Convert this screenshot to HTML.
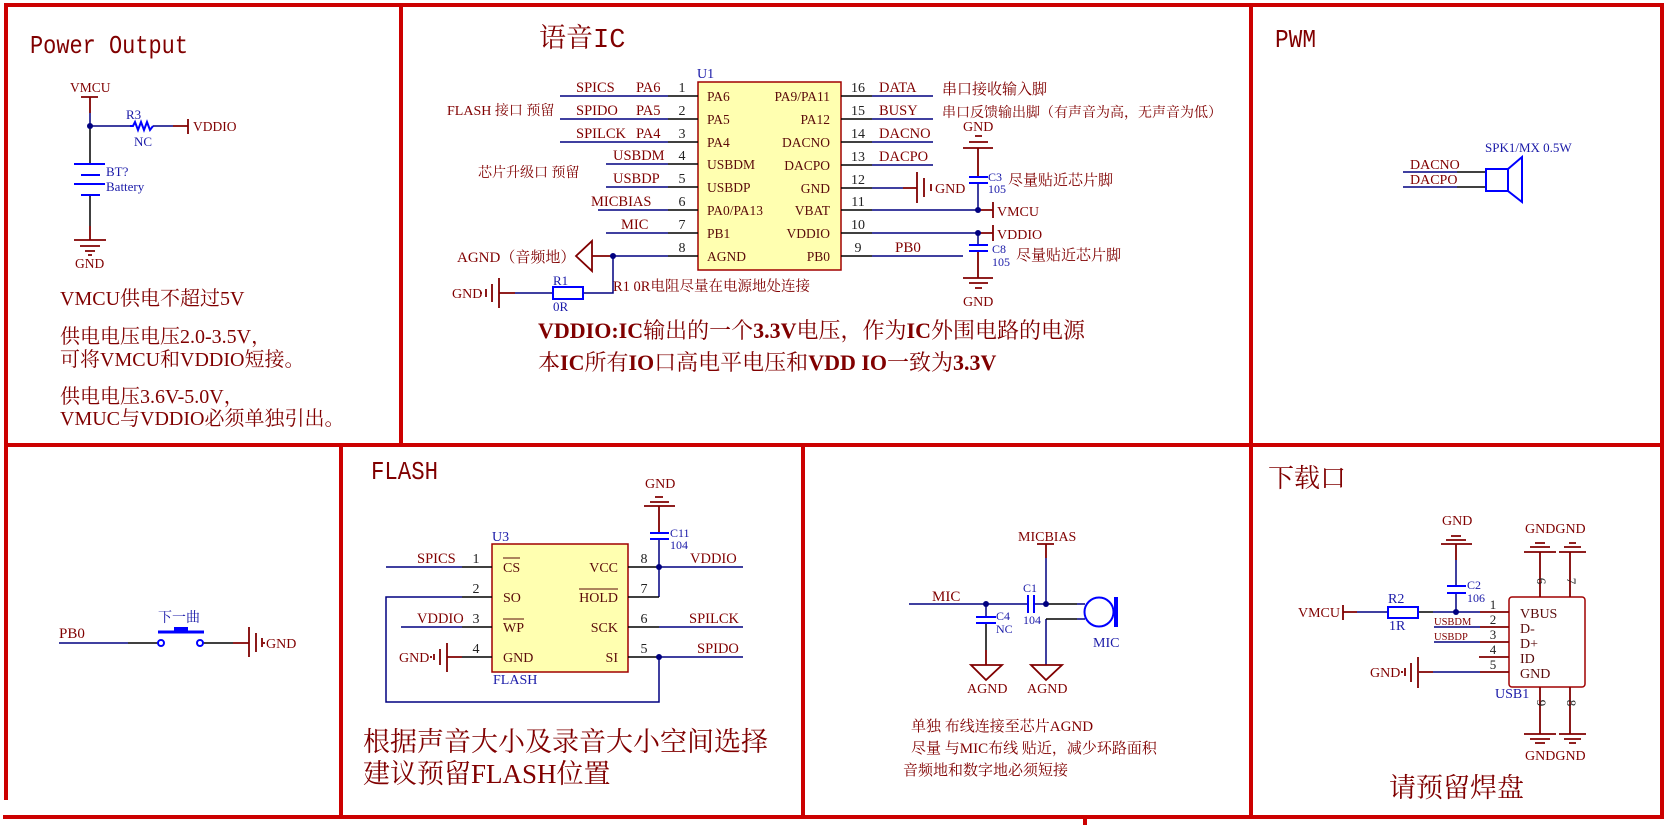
<!DOCTYPE html>
<html><head><meta charset="utf-8"><style>
html,body{margin:0;padding:0;background:#fff;}
svg{display:block;}
text{font-family:"Liberation Serif","Noto Serif CJK SC",serif;}
.r{fill:#800000}
.b{fill:#1a1aa8}
.k{fill:#222}
.mono{font-family:"Liberation Mono","Noto Serif CJK SC",monospace;}
</style></head><body>
<svg width="1669" height="825" viewBox="0 0 1669 825" xmlns="http://www.w3.org/2000/svg">
<rect x="0" y="0" width="1669" height="825" fill="#fff"/>

<!-- GRID -->
<g stroke="#cc0000" stroke-width="4" fill="none">
<path d="M4 5 H1664 M6 5 V800 M1662 5 V818 M3 817 H1664 M6 445 H1662 M401 5 V445 M1251 5 V817 M341 445 V817 M803 445 V817 M1085 817 V825"/>
</g>

<!-- IC boxes -->
<rect x="698" y="82" width="143" height="188" fill="#ffffb0" stroke="#a00000" stroke-width="1.5"/>
<rect x="492" y="544" width="136" height="128" fill="#ffffb0" stroke="#a00000" stroke-width="1.5"/>
<rect x="1509" y="597" width="76" height="90" rx="3" fill="#fff" stroke="#a00000" stroke-width="1.5"/>

<!-- NAVY WIRES -->
<g stroke="#000080" stroke-width="1.5" fill="none">
<path d="M90 113 V126 H130 M153 126 H173"/>
<path d="M560 96 H668 M560 119 H668 M560 142 H668 M606 164 H668 M606 187 H668 M598 210 H668 M606 233 H668 M613 256 H668 M613 256 V293 H583 M553 293 H515"/>
<path d="M872 96 H933 M872 119 H933 M872 142 H933 M872 165 H933 M872 188 H903 M872 210 H978 M872 233 H978 M872 256 H963 M978 183 V210 M978 233 V245"/>
<path d="M1403 172 H1457 M1403 187 H1457"/>
<path d="M59 643 H128"/>
<path d="M386 567 H462 M462 597 H386 V702 H659 V657 M401 627 H462 M659 567 H743 M659 597 V567 M659 539 V567 M659 627 H743 M659 657 H743"/>
<path d="M909 604 H1028 M1034 604 H1046 M1046 558 V604 M1077 604 H1085 M1077 619 H1085 M1046 619 V665 M986 604 V617"/>
<path d="M1357 612 H1388 M1433 612 H1480 M1456 560 V586 M1456 593 V612 M1434 627 H1480 M1434 642 H1480 M1433 672 H1480"/>
</g>

<!-- BLACK WIRES -->
<g stroke="#000" stroke-width="1.5" fill="none">
<path d="M90 126 V164 M90 195 V226"/>
<path d="M668 96 H698 M668 119 H698 M668 142 H698 M668 164 H698 M668 187 H698 M668 210 H698 M668 233 H698 M668 256 H698"/>
<path d="M841 96 H872 M841 119 H872 M841 142 H872 M841 165 H872 M841 188 H872 M841 210 H872 M841 233 H872 M841 256 H872"/>
<path d="M1457 172 H1486 M1457 187 H1486"/>
<path d="M128 643 H158 M203 643 H233"/>
<path d="M462 567 H492 M462 597 H492 M462 627 H492 M462 657 H492 M628 567 H659 M628 597 H659 M628 627 H659 M628 657 H659"/>
<path d="M1046 604 H1077 M1046 619 H1077 M986 623 V650"/>
<path d="M1418 612 H1433"/>
</g>

<!-- DARK RED (power ports / ground) -->
<g stroke="#800000" stroke-width="1.8" fill="none">
<path d="M81 97 H98 M90 97 V113 M173 126 H188 M188 119 V134 M90 226 V240"/>
<path d="M74 240 H106 M80 246 H100 M85 251 H95 M88 255 H92"/>
<path d="M592 256 H613"/>
<polygon points="576,256 592,241 592,271"/>
<path d="M515 293 H499 M499 278 V308 M492 284 V302 M486 289 V297 M481 292 V294"/>
<path d="M903 188 H917 M917 172 V203 M924 178 V197 M931 184 V191"/>
<path d="M978 210 H993 M993 202 V218 M978 233 H993 M993 225 V241"/>
<path d="M975 136 H982 M969 142 H988 M963 148 H993 M978 148 V177"/>
<path d="M978 251 V278 M963 278 H993 M969 283 H988 M975 288 H982"/>
<path d="M233 643 H249 M249 627 V657 M256 633 V652 M262 638 V647 M264 642 V644"/>
<path d="M447 657 H462 M447 643 V672 M440 649 V665 M434 654 V660 M431 656 V658"/>
<path d="M659 533 V506 M644 506 H675 M650 502 H669 M655 497 H663"/>
<path d="M1037 544 H1054 M1046 544 V558 M986 650 V665"/>
<polygon points="971,665 1002,665 986,680"/>
<polygon points="1031,665 1062,665 1046,680"/>
<path d="M1343 605 V620 M1343 612 H1357 M1480 612 H1509 M1480 627 H1509 M1480 642 H1509 M1479 657 H1509 M1480 672 H1509 M1433 672 H1419"/>
<path d="M1418 657 V688 M1411 663 V682 M1405 668 V676 M1402 671 V673"/>
<path d="M1456 544 V560 M1441 544 H1472 M1446 540 H1466 M1451 536 H1461"/>
<path d="M1540 597 V552 M1570 597 V552 M1524 552 H1556 M1559 552 H1586 M1530 547 H1550 M1564 547 H1581 M1535 543 H1545 M1569 543 H1576"/>
<path d="M1540 687 V734 M1570 687 V734 M1524 734 H1556 M1559 734 H1586 M1530 739 H1550 M1564 739 H1581 M1535 743 H1545 M1569 743 H1576"/>
</g>

<!-- BLUE COMPONENT SYMBOLS -->
<g stroke="#0000ff" stroke-width="2" fill="none">
<polyline points="130,126 133,126 135,122 138,130 141,122 144,130 147,122 150,130 153,126"/>
<path d="M74 164 H105 M81 175 H100 M74 184 H105 M81 195 H100"/>
<rect x="553" y="287" width="30" height="12"/>
<path d="M969 177 H988 M969 183 H988 M969 245 H988 M969 251 H988"/>
<rect x="1486" y="169" width="22" height="22"/>
<polygon points="1508,169 1522,157 1522,202 1508,191"/>
<circle cx="161" cy="643" r="3" fill="#fff"/>
<circle cx="200" cy="643" r="3" fill="#fff"/>
<path d="M158 632 H204" stroke-width="3"/>
<path d="M650 533 H669 M650 539 H669"/>
<path d="M1028 595 V613 M1034 595 V613 M976 617 H996 M976 623 H996"/>
<circle cx="1099" cy="612" r="14.5"/>
<path d="M1116 597 V627" stroke-width="4"/>
<rect x="1388" y="607" width="30" height="11"/>
<path d="M1447 586 H1466 M1447 593 H1466"/>
</g>
<rect x="174" y="627" width="14" height="5" fill="#0000ff"/>

<!-- junction dots -->
<g fill="#000080">
<circle cx="90" cy="126" r="3"/>
<circle cx="613" cy="256" r="3"/>
<circle cx="978" cy="210" r="3"/>
<circle cx="978" cy="233" r="3"/>
<circle cx="659" cy="567" r="3"/>
<circle cx="659" cy="657" r="3"/>
<circle cx="986" cy="604" r="3"/>
<circle cx="1046" cy="604" r="3"/>
<circle cx="1456" cy="612" r="3"/>
</g>

<!-- ============ TEXT ============ -->
<!-- Power panel -->
<text x="30" y="53" class="mono r" font-size="26" textLength="158" lengthAdjust="spacingAndGlyphs">Power Output</text>
<text x="70" y="92" class="r" font-size="13.5">VMCU</text>
<text x="126" y="119" class="b" font-size="13">R3</text>
<text x="134" y="146" class="b" font-size="13">NC</text>
<text x="193" y="131" class="r" font-size="13.5">VDDIO</text>
<text x="106" y="176" class="b" font-size="13">BT?</text>
<text x="106" y="191" class="b" font-size="13">Battery</text>
<text x="75" y="268" class="r" font-size="13.5">GND</text>
<g class="r" font-size="20">
<text x="60" y="305">VMCU供电不超过5V</text>
<text x="60" y="343">供电电压电压2.0-3.5V，</text>
<text x="60" y="366">可将VMCU和VDDIO短接。</text>
<text x="60" y="403">供电电压3.6V-5.0V，</text>
<text x="60" y="425">VMUC与VDDIO必须单独引出。</text>
</g>

<!-- IC panel -->
<text x="539" y="47" class="r" font-size="27"><tspan style="font-family:'Noto Serif CJK SC',serif">语音</tspan><tspan class="mono">IC</tspan></text>
<text x="697" y="78" class="b" font-size="14">U1</text>
<g class="r" font-size="14.5">
<text x="576" y="92">SPICS</text><text x="636" y="92">PA6</text>
<text x="576" y="115">SPIDO</text><text x="636" y="115">PA5</text>
<text x="576" y="138">SPILCK</text><text x="636" y="138">PA4</text>
<text x="613" y="160">USBDM</text>
<text x="613" y="183">USBDP</text>
<text x="591" y="206">MICBIAS</text>
<text x="621" y="229">MIC</text>
<text x="879" y="92">DATA</text>
<text x="879" y="115">BUSY</text>
<text x="879" y="138">DACNO</text>
<text x="879" y="161">DACPO</text>
<text x="895" y="252" font-size="15">PB0</text>
</g>
<g class="k" font-size="14" text-anchor="middle">
<text x="682" y="92">1</text><text x="682" y="115">2</text><text x="682" y="138">3</text><text x="682" y="160">4</text>
<text x="682" y="183">5</text><text x="682" y="206">6</text><text x="682" y="229">7</text><text x="682" y="252">8</text>
<text x="858" y="92">16</text><text x="858" y="115">15</text><text x="858" y="138">14</text><text x="858" y="161">13</text>
<text x="858" y="184">12</text><text x="858" y="206">11</text><text x="858" y="229">10</text><text x="858" y="252">9</text>
</g>
<g fill="#5a0a0a" font-size="13.5">
<text x="707" y="101">PA6</text><text x="707" y="124">PA5</text><text x="707" y="147">PA4</text>
<text x="707" y="169">USBDM</text><text x="707" y="192">USBDP</text><text x="707" y="215">PA0/PA13</text>
<text x="707" y="238">PB1</text><text x="707" y="261">AGND</text>
</g>
<g fill="#5a0a0a" font-size="13.5" text-anchor="end">
<text x="830" y="101">PA9/PA11</text><text x="830" y="124">PA12</text><text x="830" y="147">DACNO</text>
<text x="830" y="170">DACPO</text><text x="830" y="193">GND</text><text x="830" y="215">VBAT</text>
<text x="830" y="238">VDDIO</text><text x="830" y="261">PB0</text>
</g>
<g class="r" font-size="14">
<text x="447" y="115">FLASH 接口 预留</text>
<text x="478" y="177">芯片升级口 预留</text>
<text x="457" y="262" font-size="15">AGND（音频地）</text>
<text x="452" y="298">GND</text>
<text x="935" y="193">GND</text>
<text x="963" y="131">GND</text>
<text x="963" y="306">GND</text>
<text x="997" y="216">VMCU</text>
<text x="997" y="239">VDDIO</text>
<text x="613" y="291" font-size="14.5">R1 0R电阻尽量在电源地处连接</text>
<text x="942" y="94" font-size="15">串口接收输入脚</text>
<text x="942" y="117">串口反馈输出脚（有声音为高，无声音为低）</text>
<text x="1008" y="185" font-size="15">尽量贴近芯片脚</text>
<text x="1016" y="260" font-size="15">尽量贴近芯片脚</text>
</g>
<g class="b" font-size="12">
<text x="553" y="285" font-size="13">R1</text>
<text x="553" y="311" font-size="13">0R</text>
<text x="988" y="181">C3</text>
<text x="988" y="193">105</text>
<text x="992" y="253">C8</text>
<text x="992" y="266">105</text>
</g>
<text x="538" y="338" class="r" font-size="22"><tspan font-weight="bold">VDDIO:IC</tspan>输出的一个<tspan font-weight="bold">3.3V</tspan>电压，作为<tspan font-weight="bold">IC</tspan>外围电路的电源</text>
<text x="538" y="370" class="r" font-size="22">本<tspan font-weight="bold">IC</tspan>所有<tspan font-weight="bold">IO</tspan>口高电平电压和<tspan font-weight="bold">VDD IO</tspan>一致为<tspan font-weight="bold">3.3V</tspan></text>

<!-- PWM panel -->
<text x="1275" y="47" class="mono r" font-size="26" textLength="41" lengthAdjust="spacingAndGlyphs">PWM</text>
<text x="1485" y="152" class="b" font-size="13">SPK1/MX 0.5W</text>
<text x="1410" y="169" class="r" font-size="14">DACNO</text>
<text x="1410" y="184" class="r" font-size="14">DACPO</text>

<!-- Button panel -->
<text x="59" y="638" class="r" font-size="15">PB0</text>
<text x="158" y="622" class="b" font-size="14">下一曲</text>
<text x="266" y="648" class="r" font-size="14">GND</text>

<!-- FLASH panel -->
<text x="371" y="479" class="mono r" font-size="26" textLength="67" lengthAdjust="spacingAndGlyphs">FLASH</text>
<text x="492" y="541" class="b" font-size="14">U3</text>
<g class="r" font-size="14.5">
<text x="417" y="563">SPICS</text>
<text x="417" y="623">VDDIO</text>
<text x="399" y="662" font-size="14">GND</text>
<text x="690" y="563">VDDIO</text>
<text x="689" y="623">SPILCK</text>
<text x="697" y="653">SPIDO</text>
<text x="645" y="488" font-size="14">GND</text>
</g>
<g class="k" font-size="14" text-anchor="middle">
<text x="476" y="563">1</text><text x="476" y="593">2</text><text x="476" y="623">3</text><text x="476" y="653">4</text>
<text x="644" y="563">8</text><text x="644" y="593">7</text><text x="644" y="623">6</text><text x="644" y="653">5</text>
</g>
<g fill="#5a0a0a" font-size="14">
<text x="503" y="572">CS</text><text x="503" y="602">SO</text><text x="503" y="632">WP</text><text x="503" y="662">GND</text>
<text x="618" y="572" text-anchor="end">VCC</text><text x="618" y="602" text-anchor="end">HOLD</text>
<text x="618" y="632" text-anchor="end">SCK</text><text x="618" y="662" text-anchor="end">SI</text>
</g>
<path d="M503 558 H520 M503 619 H524 M579 589 H618" stroke="#5a0a0a" stroke-width="1"/>
<text x="670" y="537" class="b" font-size="12">C11</text>
<text x="670" y="549" class="b" font-size="12">104</text>
<text x="493" y="684" class="b" font-size="14">FLASH</text>
<text x="363" y="751" class="r" font-size="27">根据声音大小及录音大小空间选择</text>
<text x="363" y="783" class="r" font-size="27">建议预留FLASH位置</text>

<!-- MIC panel -->
<g class="r" font-size="14">
<text x="1018" y="541">MICBIAS</text>
<text x="932" y="601" font-size="15">MIC</text>
<text x="967" y="693">AGND</text>
<text x="1027" y="693">AGND</text>
</g>
<g class="b" font-size="12">
<text x="1023" y="592">C1</text>
<text x="1023" y="624">104</text>
<text x="996" y="620">C4</text>
<text x="996" y="633">NC</text>
</g>
<text x="1093" y="647" class="b" font-size="14">MIC</text>
<g class="r" font-size="15">
<text x="911" y="731">单独 布线连接至芯片AGND</text>
<text x="911" y="753">尽量 与MIC布线 贴近，减少环路面积</text>
<text x="903" y="775">音频地和数字地必须短接</text>
</g>

<!-- Download panel -->
<text x="1268" y="487" class="r" font-size="26">下载口</text>
<g class="r" font-size="14">
<text x="1298" y="617">VMCU</text>
<text x="1442" y="525">GND</text>
<text x="1370" y="677">GND</text>
<text x="1525" y="533">GNDGND</text>
<text x="1525" y="760">GNDGND</text>
<text x="1434" y="625" font-size="10.5">USBDM</text>
<text x="1434" y="640" font-size="10.5">USBDP</text>
</g>
<g class="b">
<text x="1388" y="603" font-size="14">R2</text>
<text x="1389" y="630" font-size="14">1R</text>
<text x="1467" y="589" font-size="12">C2</text>
<text x="1467" y="602" font-size="12">106</text>
<text x="1495" y="698" font-size="14">USB1</text>
</g>
<g class="k" font-size="13" text-anchor="middle">
<text x="1493" y="609">1</text><text x="1493" y="624">2</text><text x="1493" y="639">3</text>
<text x="1493" y="654">4</text><text x="1493" y="669">5</text>
<text transform="translate(1537,581) rotate(90)">6</text>
<text transform="translate(1567,581) rotate(90)">7</text>
<text transform="translate(1537,703) rotate(90)">9</text>
<text transform="translate(1567,703) rotate(90)">8</text>
</g>
<g fill="#5a0a0a" font-size="14">
<text x="1520" y="618">VBUS</text><text x="1520" y="633">D-</text><text x="1520" y="648">D+</text>
<text x="1520" y="663">ID</text><text x="1520" y="678">GND</text>
</g>
<text x="1389" y="797" class="r" font-size="27">请预留焊盘</text>
</svg>
</body></html>
